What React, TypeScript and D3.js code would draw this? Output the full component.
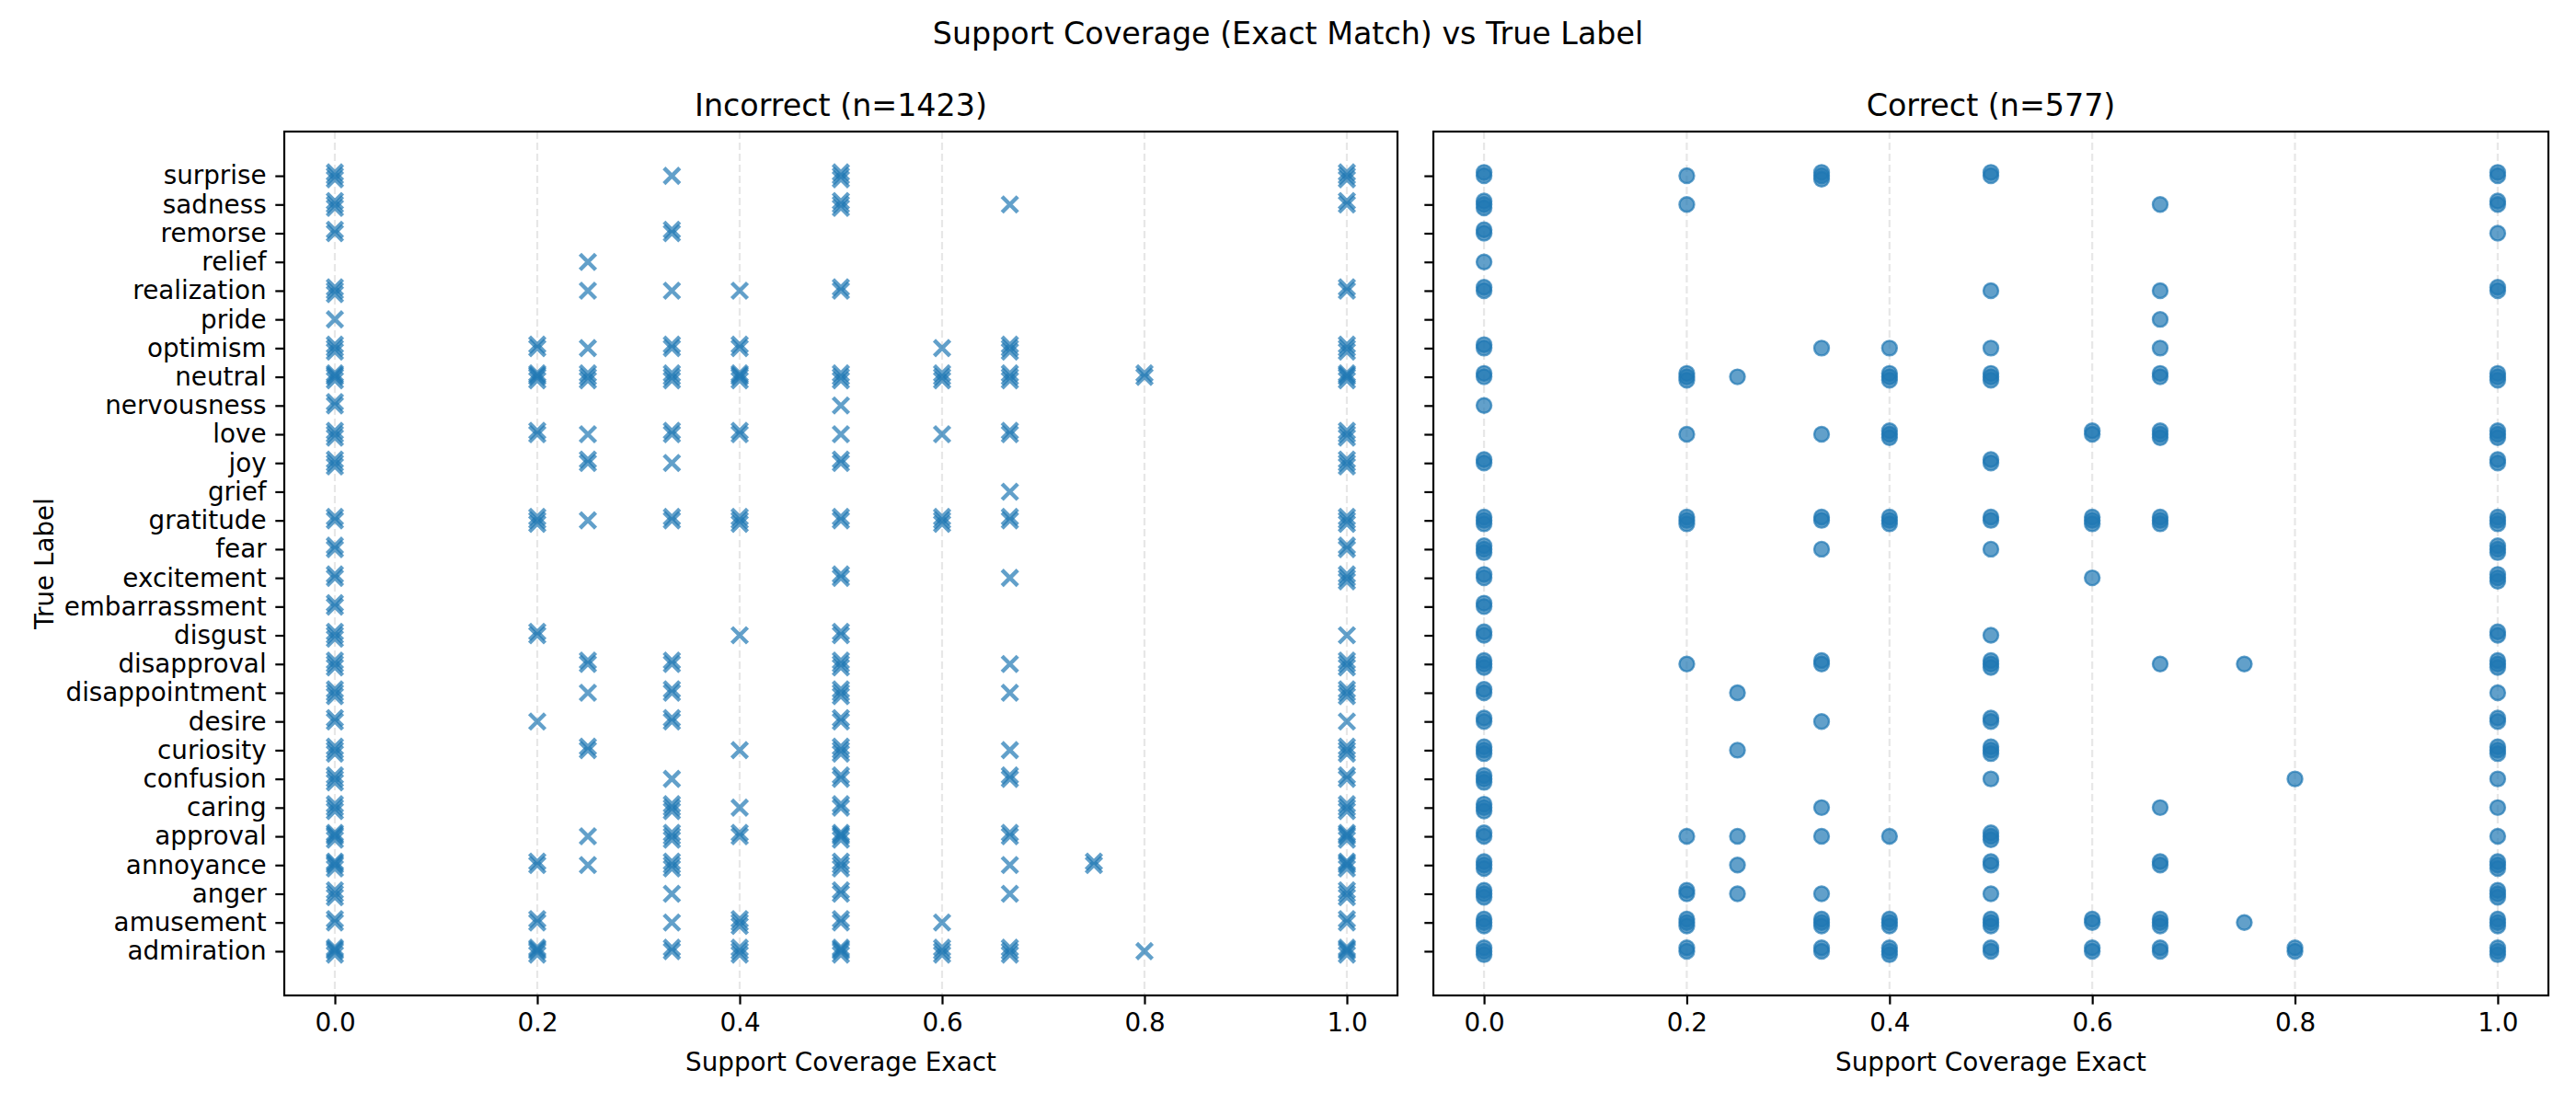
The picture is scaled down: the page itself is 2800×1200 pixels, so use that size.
import { useEffect, useRef } from "react";
import * as d3 from "d3";

// categories from bottom (index 0) to top
const LABELS = [
  "admiration", "amusement", "anger", "annoyance", "approval", "caring", "confusion",
  "curiosity", "desire", "disappointment", "disapproval", "disgust", "embarrassment",
  "excitement", "fear", "gratitude", "grief", "joy", "love", "nervousness", "neutral",
  "optimism", "pride", "realization", "relief", "remorse", "sadness", "surprise",
];

const X_TICKS = [0, 0.2, 0.4, 0.6, 0.8, 1.0];

// [label, coverage, number of overlapping points]
type Pt = [string, number, number];

const INCORRECT: Pt[] = [
  ["surprise", 0, 3], ["surprise", 0.333, 1], ["surprise", 0.5, 3], ["surprise", 1, 3],
  ["sadness", 0, 3], ["sadness", 0.5, 3], ["sadness", 0.667, 1], ["sadness", 1, 2],
  ["remorse", 0, 2], ["remorse", 0.333, 2],
  ["relief", 0.25, 1],
  ["realization", 0, 3], ["realization", 0.25, 1], ["realization", 0.333, 1], ["realization", 0.4, 1], ["realization", 0.5, 2], ["realization", 1, 2],
  ["pride", 0, 1],
  ["optimism", 0, 3], ["optimism", 0.2, 2], ["optimism", 0.25, 1], ["optimism", 0.333, 2], ["optimism", 0.4, 2], ["optimism", 0.6, 1], ["optimism", 0.667, 3], ["optimism", 1, 3],
  ["neutral", 0, 4], ["neutral", 0.2, 4], ["neutral", 0.25, 3], ["neutral", 0.333, 3], ["neutral", 0.4, 4], ["neutral", 0.5, 3], ["neutral", 0.6, 3], ["neutral", 0.667, 3], ["neutral", 0.8, 2], ["neutral", 1, 4],
  ["nervousness", 0, 2], ["nervousness", 0.5, 1],
  ["love", 0, 3], ["love", 0.2, 2], ["love", 0.25, 1], ["love", 0.333, 2], ["love", 0.4, 2], ["love", 0.5, 1], ["love", 0.6, 1], ["love", 0.667, 2], ["love", 1, 3],
  ["joy", 0, 3], ["joy", 0.25, 2], ["joy", 0.333, 1], ["joy", 0.5, 2], ["joy", 1, 3],
  ["grief", 0.667, 1],
  ["gratitude", 0, 2], ["gratitude", 0.2, 3], ["gratitude", 0.25, 1], ["gratitude", 0.333, 2], ["gratitude", 0.4, 3], ["gratitude", 0.5, 2], ["gratitude", 0.6, 3], ["gratitude", 0.667, 2], ["gratitude", 1, 3],
  ["fear", 0, 2], ["fear", 1, 2],
  ["excitement", 0, 2], ["excitement", 0.5, 2], ["excitement", 0.667, 1], ["excitement", 1, 3],
  ["embarrassment", 0, 2],
  ["disgust", 0, 3], ["disgust", 0.2, 2], ["disgust", 0.4, 1], ["disgust", 0.5, 2], ["disgust", 1, 1],
  ["disapproval", 0, 3], ["disapproval", 0.25, 2], ["disapproval", 0.333, 2], ["disapproval", 0.5, 3], ["disapproval", 0.667, 1], ["disapproval", 1, 3],
  ["disappointment", 0, 3], ["disappointment", 0.25, 1], ["disappointment", 0.333, 2], ["disappointment", 0.5, 3], ["disappointment", 0.667, 1], ["disappointment", 1, 3],
  ["desire", 0, 2], ["desire", 0.2, 1], ["desire", 0.333, 2], ["desire", 0.5, 2], ["desire", 1, 1],
  ["curiosity", 0, 3], ["curiosity", 0.25, 2], ["curiosity", 0.4, 1], ["curiosity", 0.5, 3], ["curiosity", 0.667, 1], ["curiosity", 1, 3],
  ["confusion", 0, 3], ["confusion", 0.333, 1], ["confusion", 0.5, 2], ["confusion", 0.667, 2], ["confusion", 1, 2],
  ["caring", 0, 3], ["caring", 0.333, 3], ["caring", 0.4, 1], ["caring", 0.5, 2], ["caring", 1, 3],
  ["approval", 0, 4], ["approval", 0.25, 1], ["approval", 0.333, 3], ["approval", 0.4, 2], ["approval", 0.5, 4], ["approval", 0.667, 2], ["approval", 1, 4],
  ["annoyance", 0, 4], ["annoyance", 0.2, 2], ["annoyance", 0.25, 1], ["annoyance", 0.333, 3], ["annoyance", 0.5, 3], ["annoyance", 0.667, 1], ["annoyance", 0.75, 2], ["annoyance", 1, 4],
  ["anger", 0, 3], ["anger", 0.333, 1], ["anger", 0.5, 2], ["anger", 0.667, 1], ["anger", 1, 3],
  ["amusement", 0, 2], ["amusement", 0.2, 2], ["amusement", 0.333, 1], ["amusement", 0.4, 3], ["amusement", 0.5, 2], ["amusement", 0.6, 1], ["amusement", 1, 2],
  ["admiration", 0, 4], ["admiration", 0.2, 4], ["admiration", 0.333, 2], ["admiration", 0.4, 3], ["admiration", 0.5, 4], ["admiration", 0.6, 3], ["admiration", 0.667, 3], ["admiration", 0.8, 1], ["admiration", 1, 4],
];

const CORRECT: Pt[] = [
  ["surprise", 0, 2], ["surprise", 0.2, 1], ["surprise", 0.333, 3], ["surprise", 0.5, 2], ["surprise", 1, 2],
  ["sadness", 0, 3], ["sadness", 0.2, 1], ["sadness", 0.667, 1], ["sadness", 1, 2],
  ["remorse", 0, 2], ["remorse", 1, 1],
  ["relief", 0, 1],
  ["realization", 0, 2], ["realization", 0.5, 1], ["realization", 0.667, 1], ["realization", 1, 2],
  ["pride", 0.667, 1],
  ["optimism", 0, 2], ["optimism", 0.333, 1], ["optimism", 0.4, 1], ["optimism", 0.5, 1], ["optimism", 0.667, 1],
  ["neutral", 0, 2], ["neutral", 0.2, 3], ["neutral", 0.25, 1], ["neutral", 0.4, 3], ["neutral", 0.5, 3], ["neutral", 0.667, 2], ["neutral", 1, 3],
  ["nervousness", 0, 1],
  ["love", 0.2, 1], ["love", 0.333, 1], ["love", 0.4, 3], ["love", 0.6, 2], ["love", 0.667, 3], ["love", 1, 3],
  ["joy", 0, 2], ["joy", 0.5, 2], ["joy", 1, 2],
  ["gratitude", 0, 3], ["gratitude", 0.2, 3], ["gratitude", 0.333, 2], ["gratitude", 0.4, 3], ["gratitude", 0.5, 2], ["gratitude", 0.6, 3], ["gratitude", 0.667, 3], ["gratitude", 1, 3],
  ["fear", 0, 3], ["fear", 0.333, 1], ["fear", 0.5, 1], ["fear", 1, 3],
  ["excitement", 0, 2], ["excitement", 0.6, 1], ["excitement", 1, 3],
  ["embarrassment", 0, 2],
  ["disgust", 0, 2], ["disgust", 0.5, 1], ["disgust", 1, 2],
  ["disapproval", 0, 3], ["disapproval", 0.2, 1], ["disapproval", 0.333, 2], ["disapproval", 0.5, 3], ["disapproval", 0.667, 1], ["disapproval", 0.75, 1], ["disapproval", 1, 3],
  ["disappointment", 0, 2], ["disappointment", 0.25, 1], ["disappointment", 1, 1],
  ["desire", 0, 2], ["desire", 0.333, 1], ["desire", 0.5, 2], ["desire", 1, 2],
  ["curiosity", 0, 3], ["curiosity", 0.25, 1], ["curiosity", 0.5, 3], ["curiosity", 1, 3],
  ["confusion", 0, 3], ["confusion", 0.5, 1], ["confusion", 0.8, 1], ["confusion", 1, 1],
  ["caring", 0, 3], ["caring", 0.333, 1], ["caring", 0.667, 1], ["caring", 1, 1],
  ["approval", 0, 2], ["approval", 0.2, 1], ["approval", 0.25, 1], ["approval", 0.333, 1], ["approval", 0.4, 1], ["approval", 0.5, 3], ["approval", 1, 1],
  ["annoyance", 0, 3], ["annoyance", 0.25, 1], ["annoyance", 0.5, 2], ["annoyance", 0.667, 2], ["annoyance", 1, 3],
  ["anger", 0, 3], ["anger", 0.2, 2], ["anger", 0.25, 1], ["anger", 0.333, 1], ["anger", 0.5, 1], ["anger", 1, 3],
  ["amusement", 0, 3], ["amusement", 0.2, 3], ["amusement", 0.333, 3], ["amusement", 0.4, 3], ["amusement", 0.5, 3], ["amusement", 0.6, 2], ["amusement", 0.667, 3], ["amusement", 0.75, 1], ["amusement", 1, 3],
  ["admiration", 0, 3], ["admiration", 0.2, 2], ["admiration", 0.333, 2], ["admiration", 0.4, 3], ["admiration", 0.5, 2], ["admiration", 0.6, 2], ["admiration", 0.667, 2], ["admiration", 0.8, 2], ["admiration", 1, 3],
];

// small fixed vertical offsets (category units) for stacked points
const JITTER = [0, 0.12, -0.12, 0.06, -0.06];

const BLUE = "#1f77b4";
const FONT = "DejaVu Sans, sans-serif";

export default function App() {
  const svgRef = useRef<SVGSVGElement | null>(null);

  useEffect(() => {
    document.body.style.margin = "0";
    if (!svgRef.current) return;
    const W = 2800, H = 1200;
    const top = 143, bottom = 1082;
    const panels = [
      { x0: 309, x1: 1519, title: "Incorrect (n=1423)", data: INCORRECT, marker: "x", labels: true },
      { x0: 1558, x1: 2770, title: "Correct (n=577)", data: CORRECT, marker: "o", labels: false },
    ];

    const svg = d3.select(svgRef.current);
    svg.selectAll("*").remove();
    svg.attr("width", W).attr("height", H).attr("viewBox", `0 0 ${W} ${H}`);
    svg.append("rect").attr("width", W).attr("height", H).attr("fill", "#fff");

    svg.append("text").attr("x", 1400).attr("y", 48).attr("text-anchor", "middle")
      .attr("font-family", FONT).attr("font-size", 33.3).text("Support Coverage (Exact Match) vs True Label");

    const yScale = d3.scaleLinear().domain([-1.54, 28.54]).range([bottom, top]);

    panels.forEach((p) => {
      const xScale = d3.scaleLinear().domain([-0.05, 1.05]).range([p.x0, p.x1]);
      const g = svg.append("g");

      // grid
      g.selectAll("line.grid").data(X_TICKS).join("line")
        .attr("x1", (d) => xScale(d)).attr("x2", (d) => xScale(d))
        .attr("y1", top).attr("y2", bottom)
        .attr("stroke", "#b0b0b0").attr("stroke-opacity", 0.3)
        .attr("stroke-width", 2.2).attr("stroke-dasharray", "8,4");

      // points
      const pts: { x: number; y: number }[] = [];
      p.data.forEach(([lab, v, n]) => {
        const yi = LABELS.indexOf(lab);
        for (let k = 0; k < n; k++) pts.push({ x: v, y: yi + JITTER[k % JITTER.length] });
      });
      const mg = g.append("g");
      if (p.marker === "x") {
        const s = 8.5;
        mg.selectAll("path").data(pts).join("path")
          .attr("d", (d) => {
            const cx = xScale(d.x), cy = yScale(d.y);
            return `M${cx - s},${cy - s}L${cx + s},${cy + s}M${cx - s},${cy + s}L${cx + s},${cy - s}`;
          })
          .attr("stroke", BLUE).attr("stroke-width", 4.4).attr("stroke-opacity", 0.7).attr("fill", "none");
      } else {
        mg.selectAll("circle").data(pts).join("circle")
          .attr("cx", (d) => xScale(d.x)).attr("cy", (d) => yScale(d.y)).attr("r", 8)
          .attr("fill", BLUE).attr("fill-opacity", 0.7)
          .attr("stroke", BLUE).attr("stroke-opacity", 0.7).attr("stroke-width", 2.4);
      }

      // frame
      g.append("rect").attr("x", p.x0).attr("y", top)
        .attr("width", p.x1 - p.x0).attr("height", bottom - top)
        .attr("fill", "none").attr("stroke", "#000").attr("stroke-width", 2.2);

      // x axis
      const xAxis = g.append("g").attr("transform", `translate(0,${bottom})`)
        .call(d3.axisBottom(xScale).tickValues(X_TICKS).tickFormat(d3.format(".1f"))
          .tickSizeInner(9.7).tickSizeOuter(0).tickPadding(9.7));
      xAxis.select(".domain").remove();
      xAxis.selectAll("line").attr("stroke-width", 2.2);
      xAxis.selectAll("text").attr("font-size", 27.8).attr("font-family", FONT).attr("fill", "#000");

      // y axis
      const yAxis = g.append("g").attr("transform", `translate(${p.x0},0)`)
        .call(d3.axisLeft(yScale).tickValues(d3.range(LABELS.length))
          .tickFormat((d) => (p.labels ? LABELS[d as number] : ""))
          .tickSizeInner(9.7).tickSizeOuter(0).tickPadding(9.7));
      yAxis.select(".domain").remove();
      yAxis.selectAll("line").attr("stroke-width", 2.2);
      yAxis.selectAll("text").attr("font-size", 27.8).attr("font-family", FONT).attr("fill", "#000");

      g.append("text").attr("x", (p.x0 + p.x1) / 2).attr("y", 126).attr("text-anchor", "middle")
        .attr("font-family", FONT).attr("font-size", 33.3).text(p.title);

      g.append("text").attr("x", (p.x0 + p.x1) / 2).attr("y", 1164).attr("text-anchor", "middle")
        .attr("font-family", FONT).attr("font-size", 27.8).text("Support Coverage Exact");
    });

    svg.append("text").attr("transform", `translate(58,${(top + bottom) / 2}) rotate(-90)`)
      .attr("text-anchor", "middle").attr("font-family", FONT).attr("font-size", 27.8).text("True Label");
  }, []);

  return <svg ref={svgRef} style={{ display: "block" }} />;
}
